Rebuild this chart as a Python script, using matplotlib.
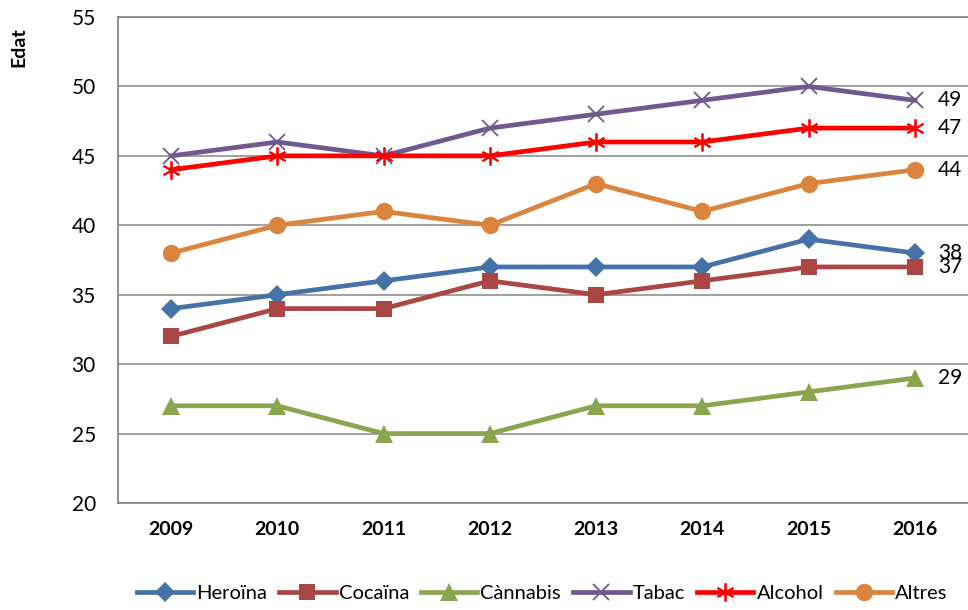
import numpy as np
import matplotlib.pyplot as plt

plt.rcParams['font.family'] = ['Lato', 'DejaVu Sans']

years = ["2009", "2010", "2011", "2012", "2013", "2014", "2015", "2016"]
heroina = [34, 35, 36, 37, 37, 37, 39, 38]
cocaina = [32, 34, 34, 36, 35, 36, 37, 37]
cannabis = [27, 27, 25, 25, 27, 27, 28, 29]
tabac = [45, 46, 45, 47, 48, 49, 50, 49]
alcohol = [44, 45, 45, 45, 46, 46, 47, 47]
altres = [38, 40, 41, 40, 43, 41, 43, 44]

series = [
    ("Heroïna", heroina, "#4572A7", "D", 10, 0),
    ("Cocaïna", cocaina, "#AA4643", "s", 11.5, 0),
    ("Cànnabis", cannabis, "#89A54E", "^", 12.5, 0),
    ("Tabac", tabac, "#71588F", "x", 12, 1.3),
    ("Alcohol", alcohol, "#FF0000", (6, 2, 0), 13, 1.3),
    ("Altres", altres, "#DB843D", "o", 12.5, 0),
]

fig = plt.figure(figsize=(9.68, 6.10), dpi=100)
ax = fig.add_axes([0.1219, 0.1754, 0.8781, 0.7967])

x = np.arange(len(years))
for name, vals, col, mk, ms, mew in series:
    ax.plot(x, vals, color=col, lw=3.4, marker=mk, markersize=ms,
            markerfacecolor=col, markeredgecolor=col,
            markeredgewidth=mew, label=name)

# value labels for the last year
for name, vals, col, mk, ms, mew in series:
    ax.text(x[-1] + 0.22, vals[-1], str(vals[-1]),
            fontsize=15, va="center", ha="left", color="black")

ax.set_xlim(-0.5, 7.5)
ax.set_ylim(20, 55)
ax.set_yticks(range(20, 56, 5))
ax.set_xticks(x)
ax.set_xticklabels(years, fontweight="bold", fontsize=14)
ax.tick_params(axis="both", length=0)
ax.tick_params(axis="x", pad=13)
ax.tick_params(axis="y", pad=16, labelsize=15)
ax.yaxis.grid(True, color="#999999", lw=1.3)
ax.set_axisbelow(True)
for s in ax.spines.values():
    s.set_color("#888888")
    s.set_linewidth(1.3)
ax.spines["right"].set_visible(False)

ax.set_ylabel("Edat", fontweight="bold", fontsize=14)
ax.yaxis.set_label_coords(-0.107, 0.938)

fig.legend(loc="center", bbox_to_anchor=(0.56, 0.027), ncol=6, frameon=False,
           fontsize=14.5, handlelength=2.8, handletextpad=0.15, columnspacing=0.6)

fig.savefig("out.png", dpi=100)
